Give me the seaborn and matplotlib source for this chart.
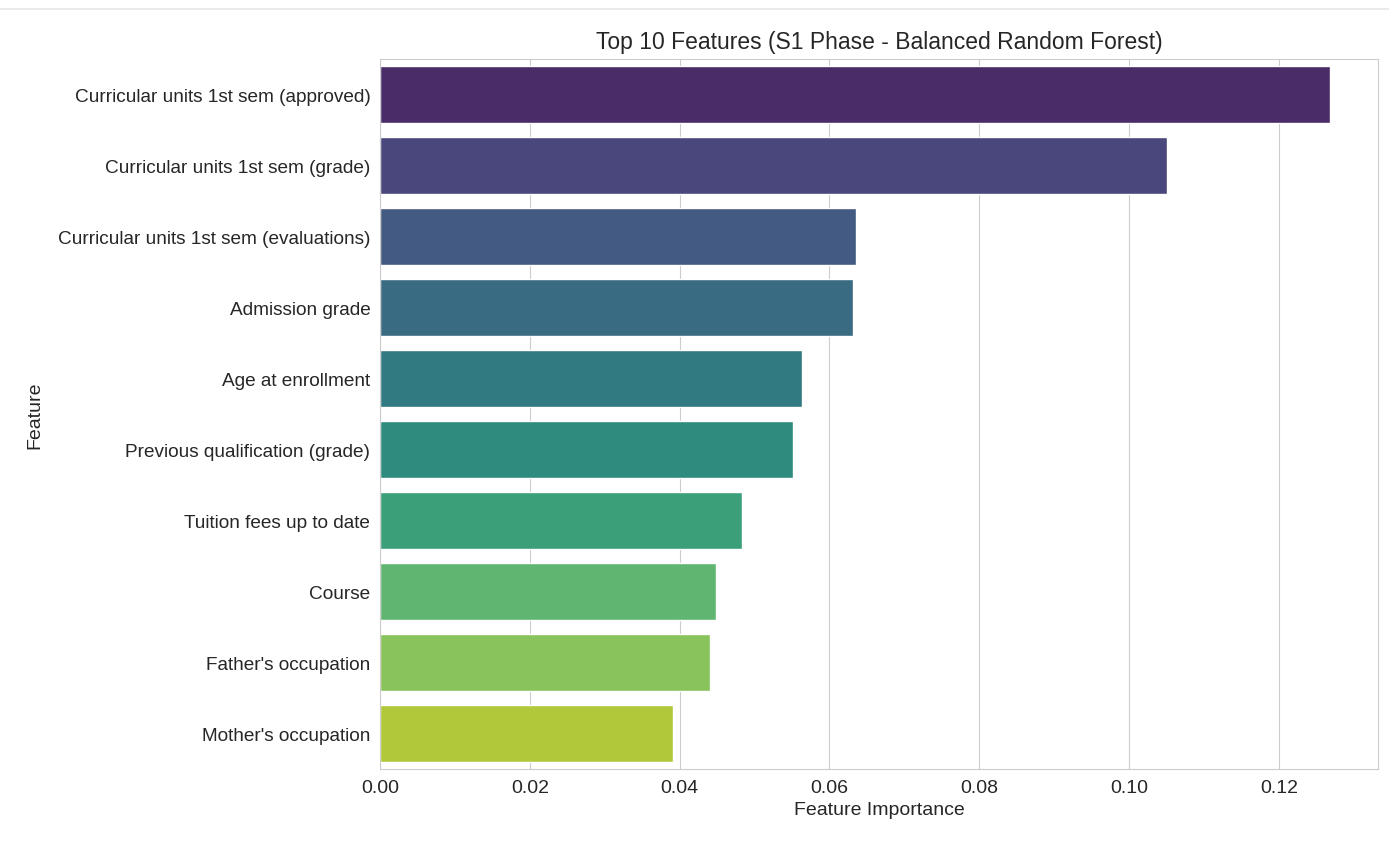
import pandas as pd
import matplotlib
matplotlib.use("Agg")
import matplotlib.pyplot as plt
import seaborn as sns
from matplotlib.lines import Line2D

features = [
    "Curricular units 1st sem (approved)",
    "Curricular units 1st sem (grade)",
    "Curricular units 1st sem (evaluations)",
    "Admission grade",
    "Age at enrollment",
    "Previous qualification (grade)",
    "Tuition fees up to date",
    "Course",
    "Father's occupation",
    "Mother's occupation",
]
importance = [0.1269, 0.1051, 0.0635, 0.0632, 0.0563, 0.0551, 0.0483, 0.0448, 0.0441, 0.0391]

df = pd.DataFrame({"Feature": features, "Importance": importance})

sns.set_style("whitegrid")
plt.rcParams["font.family"] = ["Liberation Sans", "DejaVu Sans"]

fig = plt.figure(figsize=(13.89, 8.45), dpi=100)
ax = fig.add_axes([380 / 1389, 1 - 770 / 845, 998 / 1389, 710 / 845])

sns.barplot(data=df, x="Importance", y="Feature", hue="Feature",
            palette="viridis", legend=False, ax=ax)

ax.set_title("Top 10 Features (S1 Phase - Balanced Random Forest)", fontsize=16.5, color="#262626", pad=8)
ax.set_xlabel("Feature Importance", fontsize=14, color="#262626", labelpad=4)
ax.set_ylabel("Feature", fontsize=14, color="#262626")
ax.yaxis.set_label_coords(-0.337, 0.5)
ax.tick_params(axis="y", labelsize=13.7, colors="#262626")
ax.tick_params(axis="x", labelsize=14, colors="#262626")

# faint separator line at top of the screenshot
fig.add_artist(Line2D([0, 1], [1 - 10 / 845, 1 - 10 / 845], color="#e6e6e6", lw=1.2))

fig.savefig("out.png", dpi=100)
